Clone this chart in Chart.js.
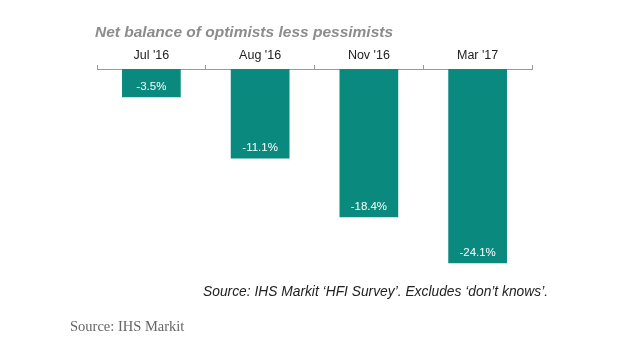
<!DOCTYPE html>
<html>
<head>
<meta charset="utf-8">
<script src="https://cdn.jsdelivr.net/npm/chart.js@4.4.1/dist/chart.umd.min.js"></script>
<style>
html,body{margin:0;padding:0;background:#fff;}
#wrap{position:relative;width:638px;height:355px;}
</style>
</head>
<body>
<div id="wrap"><canvas id="c" width="638" height="355"></canvas></div>
<script>
const categories = ["Jul '16", "Aug '16", "Nov '16", "Mar '17"];
const values = [-3.5, -11.1, -18.4, -24.1];
const titleText = "Net balance of optimists less pessimists";
const noteText = "Source: IHS Markit \u2018HFI Survey\u2019. Excludes \u2018don\u2019t knows\u2019.";
const sourceText = "Source: IHS Markit";

const textPlugin = {
  id: 'texts',
  afterDraw(chart) {
    const ctx = chart.ctx;
    ctx.save();
    // title
    ctx.font = 'italic bold 15.5px "Liberation Sans", Arial, sans-serif';
    ctx.fillStyle = '#8c8c8c';
    ctx.textAlign = 'left';
    ctx.textBaseline = 'alphabetic';
    ctx.fillText(titleText, 95, 37);
    // note
    ctx.font = 'italic 13.8px "Liberation Sans", Arial, sans-serif';
    ctx.fillStyle = '#222';
    ctx.fillText(noteText, 203, 296);
    // source
    ctx.font = '14.5px "Liberation Serif", "DejaVu Serif", serif';
    ctx.fillStyle = '#666';
    ctx.fillText(sourceText, 70, 331);
    // data labels
    const meta = chart.getDatasetMeta(0);
    ctx.font = '11.5px "Liberation Sans", Arial, sans-serif';
    ctx.fillStyle = '#ffffff';
    ctx.textAlign = 'center';
    ctx.textBaseline = 'middle';
    meta.data.forEach((bar, i) => {
      ctx.fillText(values[i].toFixed(1) + '%', bar.x, bar.y - 10.5);
    });
    ctx.restore();
  }
};

new Chart(document.getElementById('c'), {
  type: 'bar',
  data: {
    labels: categories,
    datasets: [{
      data: values,
      backgroundColor: '#0a8a7e',
      categoryPercentage: 1,
      barPercentage: 0.54
    }]
  },
  options: {
    responsive: false,
    animation: false,
    layout: { padding: { left: 97, right: 106, top: 0, bottom: 355 - 270.5 } },
    plugins: { legend: { display: false }, tooltip: { enabled: false }, title: { display: false } },
    scales: {
      x: {
        position: 'top',
        grid: { display: true, drawOnChartArea: false, color: '#999', tickLength: 4, offset: true },
        border: { display: true, color: '#999', width: 1 },
        ticks: { color: '#222', font: { size: 12.5, family: '"Liberation Sans", Arial, sans-serif' }, padding: 2, maxRotation: 0 },
        afterFit(scale) { scale.height = 69; }
      },
      y: {
        display: false,
        min: -25,
        max: 0
      }
    }
  },
  plugins: [textPlugin]
});
</script>
</body>
</html>
